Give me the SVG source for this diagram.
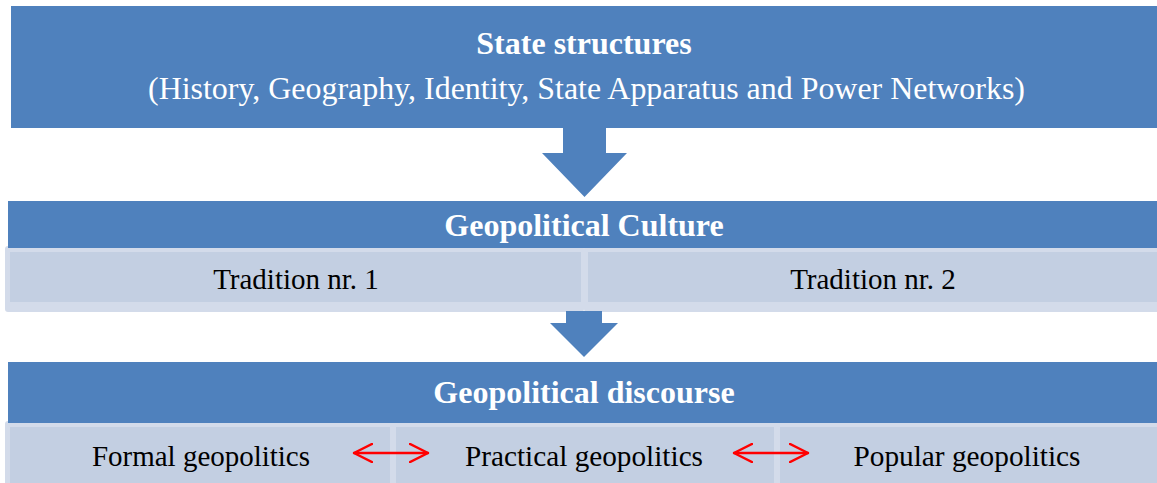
<svg xmlns="http://www.w3.org/2000/svg" width="1157" height="483" viewBox="0 0 1157 483">
<defs>
<style>
.blue{fill:#4F81BD}
.cellOut{fill:#D3DBEA}
.cellIn{fill:#C3CFE2}
.tw{font-family:"Liberation Serif","Times New Roman",serif;fill:#FFFFFF;text-anchor:middle}
.tb{font-weight:bold}
.tk{font-family:"Liberation Serif","Times New Roman",serif;fill:#000000;text-anchor:middle}
.red{stroke:#FF0000;stroke-width:2.5;fill:none;stroke-linecap:round;stroke-linejoin:round}
</style>
<marker id="rh" viewBox="0 0 20 20" refX="19" refY="10" markerWidth="20" markerHeight="20" markerUnits="userSpaceOnUse" orient="auto-start-reverse">
<path d="M1,1 L19,10 L1,19" fill="none" stroke="#FF0000" stroke-width="2.5" stroke-linecap="round" stroke-linejoin="round"/>
</marker>
</defs>
<rect width="1157" height="483" fill="#FFFFFF"/>

<g id="state-structures">
<rect class="blue" x="11" y="6" width="1150" height="122"/>
<text class="tw tb" x="584" y="54" font-size="32">State structures</text>
<text class="tw" x="586.5" y="99" font-size="31.5" textLength="877" lengthAdjust="spacingAndGlyphs">(History, Geography, Identity, State Apparatus and Power Networks)</text>
</g>

<g id="geopolitical-culture">
<rect class="cellOut" x="5" y="246" width="579" height="66" rx="3"/>
<rect class="cellIn" x="10" y="252" width="571" height="50"/>
<rect class="cellOut" x="584" y="246" width="580" height="66" rx="3"/>
<rect class="cellIn" x="588" y="252" width="580" height="50"/>
<rect class="blue" x="8" y="201" width="1153" height="47"/>
<text class="tw tb" x="584" y="236" font-size="32">Geopolitical Culture</text>
<text class="tk" x="296" y="289" font-size="29">Tradition nr. 1</text>
<text class="tk" x="873" y="289" font-size="29">Tradition nr. 2</text>
</g>

<g id="geopolitical-discourse">
<rect class="cellOut" x="5" y="421" width="388" height="70" rx="3"/>
<rect class="cellIn" x="10" y="427" width="380" height="60"/>
<rect class="cellOut" x="392" y="421" width="385" height="70" rx="3"/>
<rect class="cellIn" x="396" y="427" width="378" height="60"/>
<rect class="cellOut" x="776" y="421" width="390" height="70" rx="3"/>
<rect class="cellIn" x="780" y="427" width="390" height="60"/>
<rect class="blue" x="8" y="362" width="1153" height="61"/>
<text class="tw tb" x="584" y="403" font-size="32">Geopolitical discourse</text>
<text class="tk" x="201" y="466" font-size="30" textLength="218" lengthAdjust="spacingAndGlyphs">Formal geopolitics</text>
<text class="tk" x="584" y="466" font-size="30" textLength="238" lengthAdjust="spacingAndGlyphs">Practical geopolitics</text>
<text class="tk" x="967" y="466" font-size="30" textLength="227" lengthAdjust="spacingAndGlyphs">Popular geopolitics</text>
</g>

<g id="connectors">
<path class="blue" d="M563,127 L606,127 L606,153 L627,153 L584.5,197 L542,153 L563,153 Z"/>
<path class="blue" d="M566,311 L602,311 L602,323 L618,323 L584,357 L550,323 L566,323 Z"/>
<line class="red" x1="354" y1="453" x2="428" y2="453" marker-start="url(#rh)" marker-end="url(#rh)"/>
<line class="red" x1="734" y1="453" x2="808" y2="453" marker-start="url(#rh)" marker-end="url(#rh)"/>
</g>
</svg>
